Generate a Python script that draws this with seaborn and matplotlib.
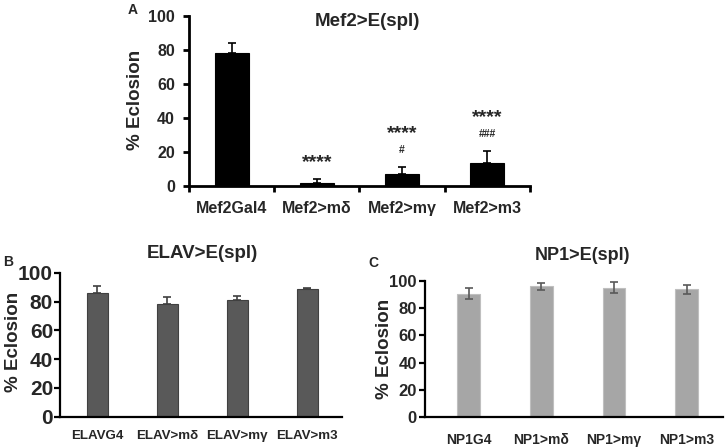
import numpy as np
import pandas as pd
import matplotlib
matplotlib.use('Agg')
import matplotlib.pyplot as plt
import seaborn as sns

sns.set_style('white')
plt.rcParams['font.family'] = ['Liberation Sans', 'DejaVu Sans']
plt.rcParams['font.weight'] = 'bold'

# Panel A data
mef2_groups = ['Mef2Gal4', 'Mef2>mδ', 'Mef2>mγ', 'Mef2>m3']
mef2_values = [78.5, 1.5, 7.3, 13.3]
mef2_errors = [5.8, 2.5, 3.8, 7.2]
mef2_stars = ['', '****', '****', '****']
mef2_hash = ['', '', '#', '###']

# Panel B data
elav_groups = ['ELAVG4', 'ELAV>mδ', 'ELAV>mγ', 'ELAV>m3']
elav_values = [86.3, 78.4, 81.0, 88.6]
elav_errors = [4.6, 4.6, 2.7, 1.2]

# Panel C data
np1_groups = ['NP1G4', 'NP1>mδ', 'NP1>mγ', 'NP1>m3']
np1_values = [90.5, 96.0, 95.0, 93.8]
np1_errors = [4.0, 2.3, 4.0, 3.0]

yticks = [0, 20, 40, 60, 80, 100]

fig = plt.figure(figsize=(7.25, 4.47), dpi=100)
axA = fig.add_axes([189 / 725, 1 - 186 / 447, 341 / 725, 170 / 447])
axB = fig.add_axes([60 / 725, 1 - 416.5 / 447, 282 / 725, 143.5 / 447])
axC = fig.add_axes([425 / 725, 1 - 417 / 447, 298 / 725, 136 / 447])


def draw_panel(ax, groups, values, errors, color, edge, ecolor, width,
               both_sides, lw):
    df = pd.DataFrame({'group': groups, 'value': values})
    sns.barplot(data=df, x='group', y='value', ax=ax, color=color,
                width=width, edgecolor=edge, linewidth=0.8, saturation=1,
                errorbar=None)
    x = np.arange(len(groups))
    lower = errors if both_sides else [0] * len(errors)
    ax.errorbar(x, values, yerr=[lower, errors], fmt='none', ecolor=ecolor,
                elinewidth=1.2, capsize=3, capthick=1.2)
    ax.set_ylim(0, 100)
    ax.set_yticks(yticks)
    ax.set_xlabel('')
    ax.set_ylabel('% Eclosion', fontsize=13.5, fontweight='bold')
    for side in ['top', 'right']:
        ax.spines[side].set_visible(False)
    for side in ['left', 'bottom']:
        ax.spines[side].set_linewidth(lw)
        ax.spines[side].set_color('black')
    ax.tick_params(axis='y', direction='out', length=4, width=lw, left=True,
                   color='black')


def place_ylabel(ax, px, py):
    # put the y label centre at a figure pixel position
    inv = ax.transAxes.inverted()
    fx, fy = inv.transform(fig.transFigure.transform((px / 725, 1 - py / 447)))
    ax.yaxis.set_label_coords(fx, fy)
    ax.yaxis.label.set_va('center')


# Panel A
draw_panel(axA, mef2_groups, mef2_values, mef2_errors, 'black', 'black',
           'black', 0.4, False, 2.0)
axA.set_xlim(-0.5, 3.5)
axA.set_xticks(np.arange(-0.5, 4, 1), minor=True)
axA.tick_params(axis='x', which='minor', bottom=True, direction='out',
                length=4, width=2, color='black')
axA.tick_params(axis='x', which='major', bottom=False, labelsize=11.5,
                pad=7)
axA.tick_params(axis='y', labelsize=11.5, pad=6)
for i in range(len(mef2_groups)):
    top = mef2_values[i] + mef2_errors[i]
    if mef2_hash[i]:
        axA.text(i, top + 10, mef2_hash[i], ha='center', va='center',
                 fontsize=7.5)
        axA.text(i, top + 20, mef2_stars[i], ha='center', va='center',
                 fontsize=14)
    elif mef2_stars[i]:
        axA.text(i, top + 9.5, mef2_stars[i], ha='center', va='center',
                 fontsize=14)

# Panel B
draw_panel(axB, elav_groups, elav_values, elav_errors, '#595959', '#404040',
           '#404040', 0.3, False, 1.6)
axB.set_xlim(-0.53, 3.5)
axB.tick_params(axis='x', bottom=False, labelsize=9.6, pad=6)
axB.tick_params(axis='y', labelsize=15, pad=1)

# Panel C
draw_panel(axC, np1_groups, np1_values, np1_errors, '#A6A6A6', '#BFBFBF',
           '#595959', 0.31, True, 1.6)
axC.set_xlim(-0.6, 3.5)
axC.tick_params(axis='x', bottom=False, labelsize=10, pad=8)
axC.tick_params(axis='y', labelsize=12, pad=2)

for ax in [axA, axB, axC]:
    for lab in ax.get_xticklabels() + ax.get_yticklabels():
        lab.set_fontweight('bold')

place_ylabel(axA, 135, 100)
place_ylabel(axB, 14, 342)
place_ylabel(axC, 385, 349)

# titles and panel letters
fig.text(367 / 725, 1 - 22 / 447, 'Mef2>E(spl)', ha='center', va='center',
         fontsize=13.5, fontweight='bold')
fig.text(202 / 725, 1 - 253 / 447, 'ELAV>E(spl)', ha='center', va='center',
         fontsize=13.5, fontweight='bold')
fig.text(582 / 725, 1 - 256 / 447, 'NP1>E(spl)', ha='center', va='center',
         fontsize=13, fontweight='bold')
fig.text(133 / 725, 1 - 10 / 447, 'A', ha='center', va='center',
         fontsize=10, fontweight='bold')
fig.text(8 / 725, 1 - 262 / 447, 'B', ha='center', va='center',
         fontsize=10, fontweight='bold')
fig.text(373 / 725, 1 - 263 / 447, 'C', ha='center', va='center',
         fontsize=10, fontweight='bold')

fig.savefig('out.png', dpi=100)
